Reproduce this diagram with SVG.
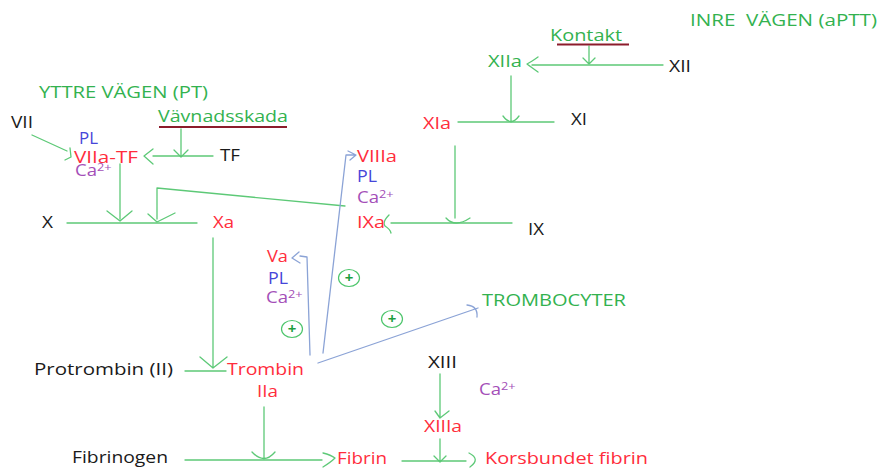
<svg xmlns="http://www.w3.org/2000/svg" width="879" height="468" viewBox="0 0 879 468">
<style>
text{font-family:"Open Sans","Noto Sans",sans-serif;font-size:16px;font-weight:500}
.g{fill:#33B24F}.k{fill:#1A1A1A}.r{fill:#FF2D3C}.b{fill:#4646D9}.p{fill:#A44FB8}
.sup{font-size:11px}
.gl{fill:none;stroke:#5DC977;stroke-width:1.3;stroke-linecap:round;stroke-linejoin:round}
.bl{fill:none;stroke:#8BA3D6;stroke-width:1.3;stroke-linecap:round;stroke-linejoin:round}
.ul{stroke:#8C1C2C;stroke-width:2.2}
.pc{fill:none;stroke:#4CC56B;stroke-width:1.2}
.plus{font-size:15px;font-weight:bold;fill:#1E9E3E;text-anchor:middle}
</style>
<rect width="879" height="468" fill="#fff"/>
<g id="connectors">
<path class="gl" d="M589,46V64M583,58L589,64L595,58"/>
<path class="gl" d="M663,65H532M538,57Q531,62 527,64Q531,67 538,72"/>
<path class="gl" d="M511,76V122M503,116Q511,127 519,116"/>
<path class="gl" d="M554,122H458"/>
<path class="gl" d="M455,146V218M446,218Q455,228 470,218"/>
<path class="gl" d="M512,223H391M389,215Q382,222 385,226Q390,229 391,233"/>
<path class="gl" d="M345,206L157,188V219M148,214L157,222L175,213"/>
<path class="gl" d="M120,164V219M107,211L120,221L132,211"/>
<path class="gl" d="M67,223H197"/>
<path class="gl" d="M213,238V367M200,357L213,368L227,357"/>
<path class="gl" d="M185,371H226"/>
<path class="gl" d="M264,407V459M252,452Q264,465 275,452"/>
<path class="gl" d="M185,460H322M323,453Q331,455 335,458Q331,462 323,467"/>
<path class="gl" d="M440,374V417M435,411L440,418L449,411"/>
<path class="gl" d="M440,439V461M434,456L440,462L446,456"/>
<path class="gl" d="M402,461H466M469,453Q481,459 470,467"/>
<path class="gl" d="M181,129V155M174,150L181,157L188,150"/>
<path class="gl" d="M213,156H153M153,149L144,156L153,164"/>
<path class="gl" d="M32,135L67,151M70,148L71,157L65,160"/>
<path class="bl" d="M323,353L346,155L355,155M348,151L356,155L350,160"/>
<path class="bl" d="M310,355L307,257L300,256M299,252L292,258L300,263"/>
<path class="bl" d="M318,363L478,308M467,305Q478,306 477,317"/>
</g>
<g id="plus1"><ellipse class="pc" cx="349" cy="278" rx="10.5" ry="8.5"/><text class="plus" x="349" y="283">+</text></g>
<g id="plus2"><ellipse class="pc" cx="292" cy="329" rx="10.5" ry="8.5"/><text class="plus" x="292" y="334">+</text></g>
<g id="plus3"><ellipse class="pc" cx="392" cy="319" rx="10.5" ry="8.5"/><text class="plus" x="392" y="324">+</text></g>
<g id="inre"><text class="g" x="690" y="26" textLength="187" lengthAdjust="spacingAndGlyphs" style="white-space:pre">INRE  VÄGEN (aPTT)</text></g>
<g id="kontakt"><text class="g" x="550" y="41" textLength="72" lengthAdjust="spacingAndGlyphs">Kontakt</text><line class="ul" x1="557" y1="44.5" x2="629" y2="44.5"/></g>
<g id="XIIa"><text class="g" x="488" y="67" textLength="34" lengthAdjust="spacingAndGlyphs">XIIa</text></g>
<g id="XII"><text class="k" x="669" y="72" textLength="22" lengthAdjust="spacingAndGlyphs">XII</text></g>
<g id="XIa"><text class="r" x="423" y="129" textLength="28" lengthAdjust="spacingAndGlyphs">XIa</text></g>
<g id="XI"><text class="k" x="571" y="125" textLength="16" lengthAdjust="spacingAndGlyphs">XI</text></g>
<g id="VIIIa-complex">
<text class="r" x="357" y="162" textLength="40" lengthAdjust="spacingAndGlyphs">VIIIa</text>
<text class="b" x="357" y="182" textLength="20" lengthAdjust="spacingAndGlyphs">PL</text>
<text class="p" transform="translate(357,203) scale(1.16,1)">Ca<tspan class="sup" dy="-5">2+</tspan></text>
</g>
<g id="IXa"><text class="r" x="357" y="228" textLength="28" lengthAdjust="spacingAndGlyphs">IXa</text></g>
<g id="IX"><text class="k" x="528" y="235" textLength="16" lengthAdjust="spacingAndGlyphs">IX</text></g>
<g id="Va-complex">
<text class="r" x="267" y="262" textLength="21" lengthAdjust="spacingAndGlyphs">Va</text>
<text class="b" x="268" y="284" textLength="20" lengthAdjust="spacingAndGlyphs">PL</text>
<text class="p" transform="translate(266,303) scale(1.16,1)">Ca<tspan class="sup" dy="-5">2+</tspan></text>
</g>
<g id="trombin">
<text class="r" x="227" y="375" textLength="77" lengthAdjust="spacingAndGlyphs">Trombin</text>
<text class="r" x="257" y="397" textLength="21" lengthAdjust="spacingAndGlyphs">IIa</text>
</g>
<g id="protrombin"><text class="k" x="34" y="375" textLength="139" lengthAdjust="spacingAndGlyphs">Protrombin (II)</text></g>
<g id="fibrinogen"><text class="k" x="72" y="463" textLength="96" lengthAdjust="spacingAndGlyphs">Fibrinogen</text></g>
<g id="fibrin"><text class="r" x="337" y="464" textLength="50" lengthAdjust="spacingAndGlyphs">Fibrin</text></g>
<g id="korsbundet"><text class="r" x="485" y="464" textLength="163" lengthAdjust="spacingAndGlyphs">Korsbundet fibrin</text></g>
<g id="XIII"><text class="k" x="428" y="368" textLength="29" lengthAdjust="spacingAndGlyphs">XIII</text></g>
<g id="Ca-XIII"><text class="p" transform="translate(479,395) scale(1.16,1)">Ca<tspan class="sup" dy="-5">2+</tspan></text></g>
<g id="XIIIa"><text class="r" x="424" y="432" textLength="38" lengthAdjust="spacingAndGlyphs">XIIIa</text></g>
<g id="trombocyter"><text class="g" x="482" y="306" textLength="144" lengthAdjust="spacingAndGlyphs">TROMBOCYTER</text></g>
<g id="yttre"><text class="g" x="39" y="98" textLength="169" lengthAdjust="spacingAndGlyphs">YTTRE VÄGEN (PT)</text></g>
<g id="vavnadsskada"><text class="g" x="158" y="122" textLength="130" lengthAdjust="spacingAndGlyphs">Vävnadsskada</text><line class="ul" x1="159" y1="127" x2="287" y2="127"/></g>
<g id="VII"><text class="k" x="11" y="128" textLength="22" lengthAdjust="spacingAndGlyphs">VII</text></g>
<g id="VIIa-TF-complex">
<text class="b" x="79" y="144" textLength="19" lengthAdjust="spacingAndGlyphs">PL</text>
<text class="r" x="74" y="163" textLength="64" lengthAdjust="spacingAndGlyphs">VIIa-TF</text>
<text class="p" transform="translate(75,176) scale(1.16,1)">Ca<tspan class="sup" dy="-5">2+</tspan></text>
</g>
<g id="TF"><text class="k" x="220" y="161" textLength="20" lengthAdjust="spacingAndGlyphs">TF</text></g>
<g id="X"><text class="k" x="42" y="228" textLength="11" lengthAdjust="spacingAndGlyphs">X</text></g>
<g id="Xa"><text class="r" x="213" y="228" textLength="21" lengthAdjust="spacingAndGlyphs">Xa</text></g>
</svg>
